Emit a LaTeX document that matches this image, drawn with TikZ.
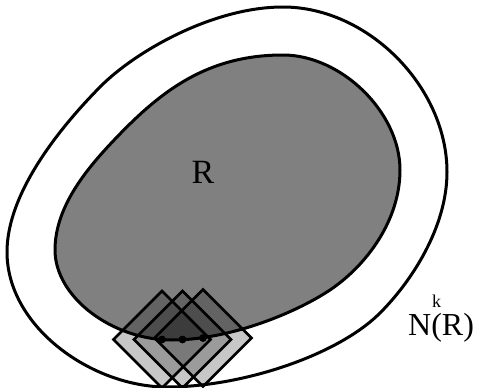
\documentclass[tikz,border=0pt]{standalone}
\usepackage{fontspec}
\setmainfont{Liberation Serif}
\usepackage{tikz}
\usetikzlibrary{shapes.geometric}
\definecolor{RegionGray}{HTML}{808080}
\tikzset{boundary/.style={line width=3pt,line join=round},region/.style={boundary,fill=RegionGray},cell/.style={diamond,aspect=1,draw,line width=2.6pt,fill=black,fill opacity=.22,draw opacity=1,minimum size=98pt,inner sep=0pt},dot/.style={circle,fill=black,minimum size=7.5pt,inner sep=0pt}}

\begin{document}
\begin{tikzpicture}[x=1pt,y=-1pt]
        \useasboundingbox (0,0) rectangle (477,388);
        % outer neighbourhood
        \draw[boundary] (283,7) .. controls (368,7) and (447,87) .. (447,172)
          .. controls (447,227) and (411.8,281.2) .. (380,313)
          .. controls (337.6,355.4) and (242,387) .. (167,387)
          .. controls (92,387) and (7,327) .. (7,252)
          .. controls (7,192) and (61.5,126) .. (100,87)
          .. controls (135,51.5) and (213,7) .. cycle;
        % region
        \draw[region] (283,55) .. controls (341,55) and (400,112) .. (400,170)
          .. controls (400,220) and (367,265) .. (330,290)
          .. controls (292.6,314.75) and (227,340) .. (172,340)
          .. controls (112,340) and (55,297) .. (55,250)
          .. controls (55,205) and (89.4,165.8) .. (117,137)
          .. controls (161.9,90.2) and (208,55) .. cycle;
        \node[font=\fontsize{34}{38}\selectfont] (rlabel) at (203,172) {R};
        % points on the border
        \node[dot] (p1) at (162,339.5) {};
        \node[dot] (p2) at (182.5,339.5) {};
        \node[dot] (p3) at (203,338) {};
        \foreach \p in {p1,p2,p3}
          \node[cell] (c\p) at (\p) {};
        \foreach \p in {p1,p2,p3}
          \node[dot] at (\p) {};
        \node[font=\fontsize{32}{36}\selectfont,anchor=base west,inner sep=0pt] (nlabel) at (408,335) {N(R)};
        \node[font=\fontsize{18}{20}\selectfont,anchor=base west,inner sep=0pt] (klabel) at (432,307) {k};
      \end{tikzpicture}
\end{document}
